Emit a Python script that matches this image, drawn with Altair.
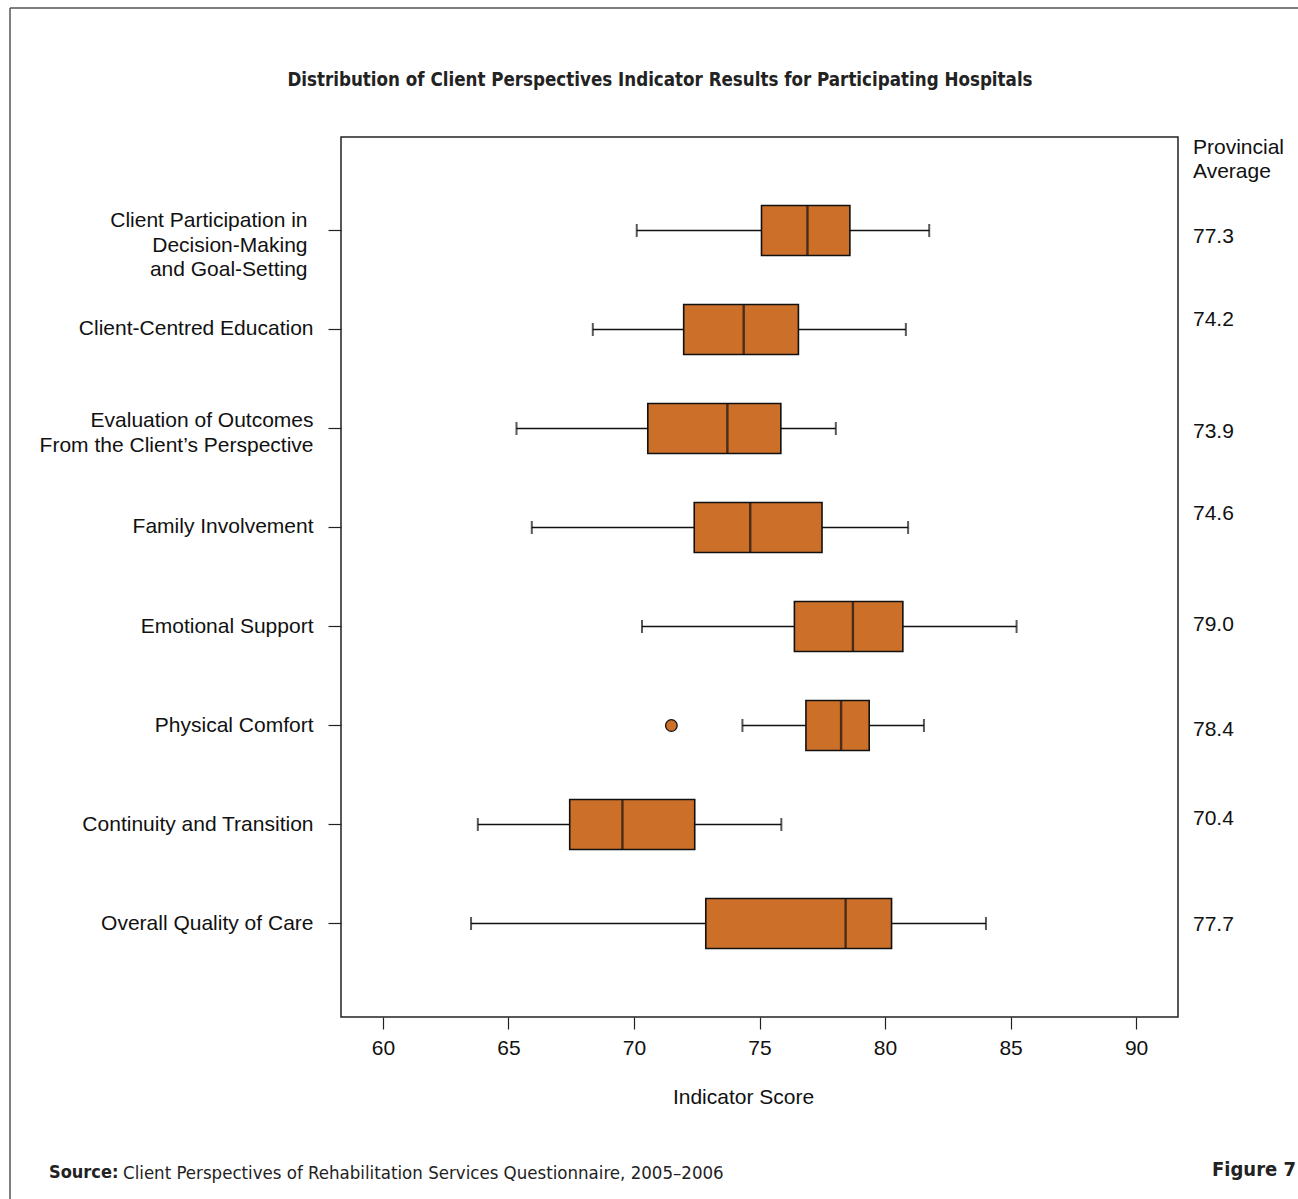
import altair as alt
import pandas as pd

# Indicator categories (top to bottom) and box-plot statistics per category
categories = [
    "Client Participation in\nDecision-Making\nand Goal-Setting",
    "Client-Centred Education",
    "Evaluation of Outcomes\nFrom the Client\u2019s Perspective",
    "Family Involvement",
    "Emotional Support",
    "Physical Comfort",
    "Continuity and Transition",
    "Overall Quality of Care",
]
whisker_low = [70.11, 68.36, 65.32, 65.93, 70.32, 74.32, 63.78, 63.51]
quartile_1 = [75.08, 71.98, 70.55, 72.40, 76.39, 76.85, 67.44, 72.86]
median = [76.91, 74.37, 73.72, 74.63, 78.72, 78.25, 69.54, 78.43]
quartile_3 = [78.60, 76.55, 75.85, 77.49, 80.71, 79.37, 72.42, 80.26]
whisker_high = [81.76, 80.83, 78.04, 80.92, 85.24, 81.55, 75.87, 84.02]

outlier_category = ["Physical Comfort"]
outlier_value = [71.49]

provincial_average = [77.3, 74.2, 73.9, 74.6, 79.0, 78.4, 70.4, 77.7]
# small vertical nudges (px) for the provincial-average labels
average_nudge = [7, -9, 4, -13, -2, 4, -6, 1]

tick_values = [60, 65, 70, 75, 80, 85, 90]

BOX_FILL = "#cc6f29"
SANS = "Liberation Sans, Arial, Helvetica, sans-serif"
NARROW = "'Liberation Sans Narrow', 'DejaVu Sans Condensed', 'Arial Narrow', sans-serif"

W, H = 837, 880
PAD_L, PAD_T, PAD_R, PAD_B = 341, 137, 120, 182
HALF_STEP = 49.5  # half of the band step, for offsets measured from the band start

stats = pd.DataFrame({
    "category": categories,
    "low": whisker_low,
    "q1": quartile_1,
    "median": median,
    "q3": quartile_3,
    "high": whisker_high,
    "avg": provincial_average,
    "nudge": average_nudge,
})
outliers = pd.DataFrame({"category": outlier_category, "value": outlier_value})

x_scale = alt.Scale(domain=[58.33, 91.67], nice=False, zero=False)
y_scale = alt.Scale(domain=categories, paddingInner=0, paddingOuter=0.444)

x_axis = alt.Axis(
    values=tick_values, grid=False, domain=False, tickSize=12, tickColor="#222",
    tickWidth=1.2, labelPadding=8, labelFont=SANS, labelFontSize=21,
    labelColor="#111", title="Indicator Score", titleFont=SANS, titleFontSize=21,
    titleFontWeight="normal", titleColor="#111", titleX=402, titleY=80,
    titleBaseline="middle", titleAnchor="middle",
)
y_axis = alt.Axis(
    title=None, grid=False, domain=False, tickSize=13, tickColor="#222",
    tickWidth=1.2, labelFont=SANS, labelFontSize=21,
    labelColor="#111", labelLineHeight=24.5, labelLimit=400,
    labelExpr="split(datum.label, '\\n')",
    labelPadding={
        "condition": {"test": "indexof(datum.value, 'Client Participation') == 0", "value": 21},
        "value": 15,
    },
    labelOffset={
        "condition": [
            {"test": "indexof(datum.value, 'Client Participation') == 0", "value": -9},
            {"test": "indexof(datum.value, 'Evaluation') == 0", "value": -7},
        ],
        "value": 0,
    },
)

base = alt.Chart(stats)

whiskers = base.mark_rule(color="#111", strokeWidth=1.6).encode(
    x=alt.X("low:Q", scale=x_scale, axis=x_axis),
    x2="high:Q",
    y=alt.Y("category:N", scale=y_scale, axis=y_axis, sort=categories),
)

caps = base.transform_fold(["low", "high"], as_=["end", "value"]).mark_tick(
    color="#111", size=13, thickness=2
).encode(
    x=alt.X("value:Q", scale=x_scale),
    y=alt.Y("category:N", scale=y_scale, sort=categories),
)

boxes = base.mark_bar(height=50, fill=BOX_FILL, stroke="#111", strokeWidth=1.6).encode(
    x=alt.X("q1:Q", scale=x_scale),
    x2="q3:Q",
    y=alt.Y("category:N", scale=y_scale, sort=categories),
)

medians = base.mark_tick(color="#111", size=49, thickness=2.4).encode(
    x=alt.X("median:Q", scale=x_scale),
    y=alt.Y("category:N", scale=y_scale, sort=categories),
)

outlier_points = alt.Chart(outliers).mark_point(
    shape="circle", filled=True, fill=BOX_FILL, stroke="#111", strokeWidth=1.3,
    size=135, opacity=1,
).encode(
    x=alt.X("value:Q", scale=x_scale),
    y=alt.Y("category:N", scale=y_scale, sort=categories),
)

averages = base.transform_calculate(
    offset=f"datum.nudge + {HALF_STEP}"
).mark_text(
    align="left", baseline="middle", font=SANS, fontSize=21, color="#111"
).encode(
    x=alt.value(W + 15),
    y=alt.Y("category:N", scale=y_scale, sort=categories),
    yOffset=alt.YOffset("offset:Q", scale=None),
    text=alt.Text("avg:Q", format=".1f"),
)


def label(text, x, y, **style):
    return alt.Chart(pd.DataFrame({"t": [text]})).mark_text(**style).encode(
        text="t:N", x=alt.value(x), y=alt.value(y)
    )


average_header = label(
    "Provincial\nAverage", W + 15, 148 - PAD_T, align="left", baseline="middle",
    font=SANS, fontSize=21, color="#111", lineBreak="\n", lineHeight=24,
)
chart_title = label(
    "Distribution of Client Perspectives Indicator Results for Participating Hospitals",
    660 - PAD_L, 80 - PAD_T, align="center", baseline="middle",
    font=NARROW, fontSize=18.6, fontWeight="bold", color="#222",
)
source_bold = label(
    "Source:", 49 - PAD_L, 1173 - PAD_T, align="left", baseline="middle",
    font=NARROW, fontSize=18, fontWeight="bold", color="#222",
)
source_text = label(
    "Client Perspectives of Rehabilitation Services Questionnaire, 2005\u20132006",
    123 - PAD_L, 1173 - PAD_T, align="left", baseline="middle",
    font=NARROW, fontSize=18.5, color="#222",
)
figure_label = label(
    "Figure 7", 1296 - PAD_L, 1170 - PAD_T, align="right", baseline="middle",
    font=NARROW, fontSize=20, fontWeight="bold", color="#222",
)

frame_data = pd.DataFrame({"k": [0]})
frame_left = alt.Chart(frame_data).mark_rule(color="#555", strokeWidth=1.5).encode(
    x=alt.value(10 - PAD_L), y=alt.value(8 - PAD_T), y2=alt.value(1199 - PAD_T)
)
frame_top = alt.Chart(frame_data).mark_rule(color="#555", strokeWidth=1.5).encode(
    x=alt.value(10 - PAD_L), x2=alt.value(1298 - PAD_L), y=alt.value(8 - PAD_T)
)

chart = alt.layer(
    whiskers, caps, boxes, medians, outlier_points, averages,
    average_header, chart_title, source_bold, source_text, figure_label,
    frame_left, frame_top,
).properties(
    width=W,
    height=H,
    autosize=alt.AutoSizeParams(type="none"),
    padding={"left": PAD_L, "top": PAD_T, "right": PAD_R, "bottom": PAD_B},
    background="white",
).configure_view(
    stroke="#222", strokeWidth=1.5
)

chart.save("out.html", embed_options={"renderer": "svg", "actions": False})
